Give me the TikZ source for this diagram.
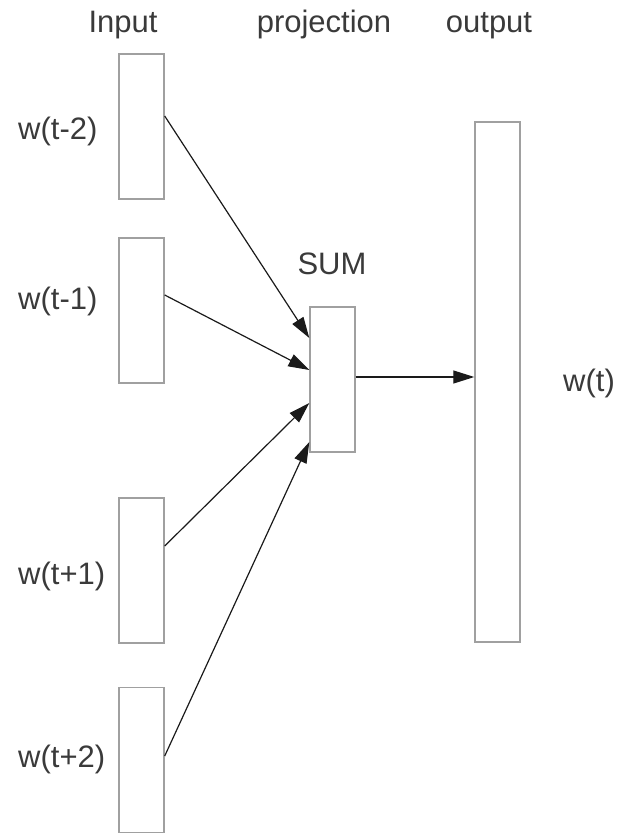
\documentclass[tikz,border=0pt]{standalone}
\usepackage{fontspec}
\setmainfont{Liberation Sans}
\usetikzlibrary{arrows.meta}
\definecolor{txt}{HTML}{3A3A3A}
\definecolor{boxc}{HTML}{A0A0A0}
\definecolor{arr}{HTML}{1A1A1A}
\tikzset{
  vec/.style={draw=boxc, line width=1.4pt, fill=white, inner sep=0pt, minimum width=45pt},
  lbl/.style={text=txt, inner sep=0pt, font=\fontsize{31}{36}\selectfont},
  conn/.style={draw=arr, line width=1.2pt, -{Triangle[length=21pt,width=13pt]}}
}
\begin{document}
\begin{tikzpicture}[x=1pt,y=-1pt]
\useasboundingbox (0,0) rectangle (618,834);
% boxes
\node[vec, minimum height=145pt] (in1) at (141.5,126.5) {};
\node[vec, minimum height=145pt] (in2) at (141.5,310.5) {};
\node[vec, minimum height=145pt] (in3) at (141.5,570.5) {};
\node[vec, minimum height=145pt] (in4) at (141.5,760) {};
\node[vec, minimum height=145pt] (sum) at (332.5,379.5) {};
\node[vec, minimum height=520pt] (out) at (497.5,382) {};
% headers
\node[lbl, anchor=base] (hin) at (123,33) {Input};
\node[lbl, anchor=base] (hproj) at (324,33) {projection};
\node[lbl, anchor=base] (hout) at (489,33) {output};
\node[lbl, anchor=base] (hsum) at (332,274) {SUM};
% word labels
\node[lbl, anchor=base west] (l1) at (18,140) {w(t-2)};
\node[lbl, anchor=base west] (l2) at (18,309) {w(t-1)};
\node[lbl, anchor=base west] (l3) at (18,584) {w(t+1)};
\node[lbl, anchor=base west] (l4) at (18,767) {w(t+2)};
\node[lbl, anchor=base west] (lo) at (563,391) {w(t)};
% connectors
\draw[conn] ([yshift=10.5pt]in1.east) -- ([yshift=41.5pt]sum.west);
\draw[conn] ([yshift=15.5pt]in2.east) -- ([yshift=9.5pt]sum.west);
\draw[conn] ([yshift=24.5pt]in3.east) -- ([yshift=-23.5pt]sum.west);
\draw[conn] ([yshift=4pt]in4.east) -- ([yshift=-62.5pt]sum.west);
\draw[conn] ([yshift=2.5pt]sum.east) -- ([yshift=2.5pt]sum.east -| out.west);
\end{tikzpicture}
\end{document}
